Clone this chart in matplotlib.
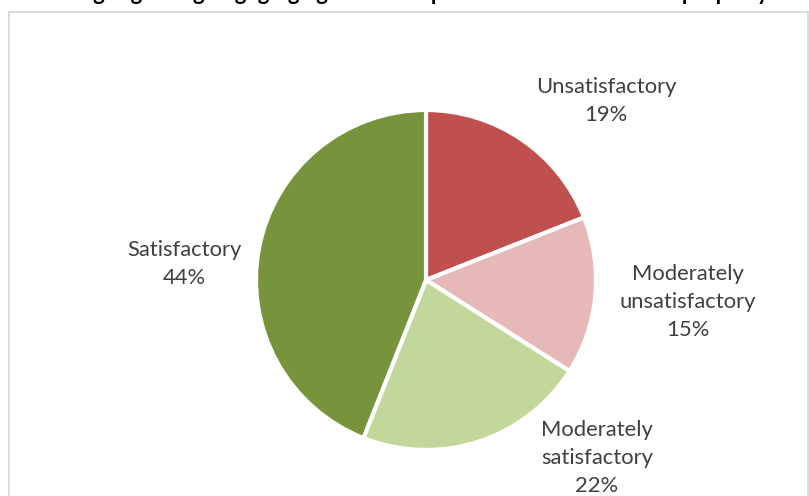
import matplotlib
matplotlib.use("Agg")
import matplotlib.pyplot as plt
from matplotlib.patches import Rectangle

# Survey ratings (share of responses, %)
categories = ["Unsatisfactory", "Moderately\nunsatisfactory",
              "Moderately\nsatisfactory", "Satisfactory"]
shares = [19, 15, 22, 44]
colors = ["#C0504D", "#E6B9B8", "#C4D79B", "#77933C"]
title = "Rating regarding engaging agencies for protection of intellectual property"

W, H = 809, 496
fig = plt.figure(figsize=(W / 100, H / 100), dpi=100)
ax = fig.add_axes([0, 0, 1, 1])
ax.set_xlim(0, W)
ax.set_ylim(0, H)
ax.set_aspect("equal")
ax.axis("off")

# chart area frame
ax.add_patch(Rectangle((9, -10), 799, H - 12 + 10, fill=False,
                       edgecolor="#D9D9D9", linewidth=1.3))

cx, cy, r = 426, H - 280, 170
wedges, _ = ax.pie(shares, colors=colors, startangle=90, counterclock=False,
                   center=(cx, cy), radius=r, frame=True,
                   wedgeprops=dict(edgecolor="white", linewidth=3))
ax.set_xlim(0, W)
ax.set_ylim(0, H)
ax.axis("off")

# data labels placed beside their wedges
label_pos = [(606, 101), (688, 302), (597, 458), (184, 264)]
for name, val, (x, y) in zip(categories, shares, label_pos):
    ax.text(x, H - y, f"{name}\n{val}%", ha="center", va="center",
            fontsize=15.8, color="#404040", family="Lato", linespacing=1.5)

# title sits above the top edge of the canvas
fig.text(0.5, 1 + 0.5 / H, title, ha="center", va="baseline",
         fontsize=16, fontweight="bold", color="black", family="Lato")

fig.savefig("out.png", dpi=100)
